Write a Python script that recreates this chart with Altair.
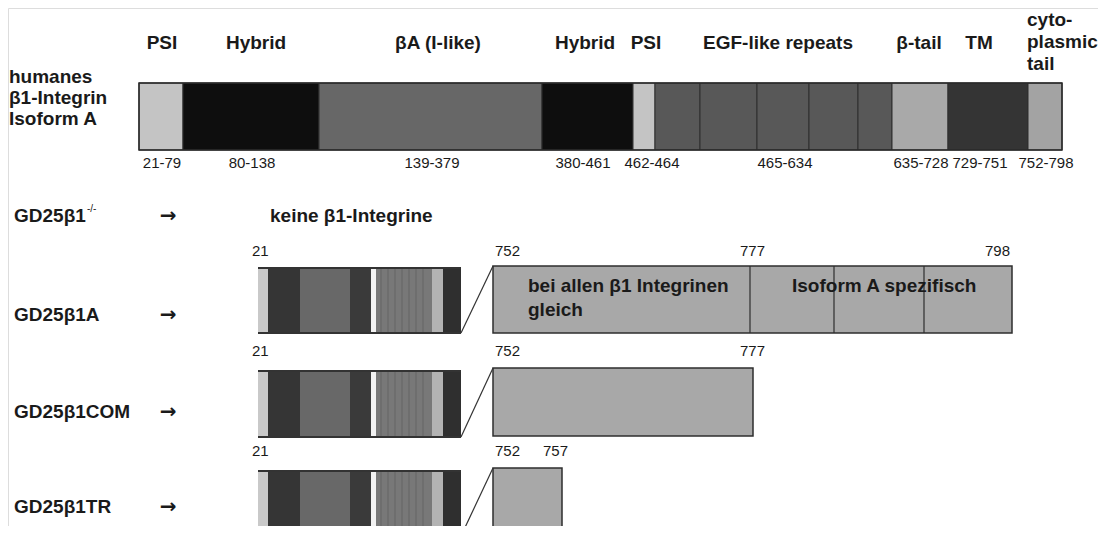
import altair as alt
import pandas as pd

FONT = "Liberation Sans"

# ---------------- top: human beta1 integrin isoform A ----------------
top_edges = [139, 183, 319, 542, 633, 655, 700, 757, 809, 858, 892, 948, 1028, 1062]
top_colors = ["#c4c4c4", "#0e0e0e", "#676767", "#0e0e0e", "#c4c4c4",
              "#585858", "#585858", "#585858", "#585858", "#585858",
              "#a9a9a9", "#343434", "#a3a3a3"]
top_bar_y = [83, 150]

header_labels = ["PSI", "Hybrid", "βA (I-like)", "Hybrid", "PSI",
                 "EGF-like repeats", "β-tail", "TM"]
header_x = [162, 256, 438, 585, 646, 778, 919, 979]
header_y = 43
cyto_lines = ["cyto-", "plasmic", "tail"]
cyto_y = [20, 42, 64]
cyto_x = 1027

name_lines = ["humanes", "β1-Integrin", "Isoform A"]
name_y = [77, 98, 119]
name_x = 9

range_labels = ["21-79", "80-138", "139-379", "380-461", "462-464",
                "465-634", "635-728", "729-751", "752-798"]
range_x = [162, 252, 432, 583, 652, 785, 921, 980, 1046]
range_y = 163

# ---------------- constructs ----------------
ko_label = "GD25β1"
ko_sup = "-/-"
ko_y = 216
ko_text = "keine β1-Integrine"
ko_text_x = 270

row_labels = ["GD25β1A", "GD25β1COM", "GD25β1TR"]
row_label_y = [315, 412, 507]
label_x = 14
arrow_x = 168

bar_top = [268, 371, 471]
bar_bottom = [333, 437, 536]
box_top = [266, 368, 468]
box_bottom = [333, 436, 536]
box_left = 493
box_right = [1012, 753, 562]

small_edges = [258, 268, 300, 350, 371, 376, 432, 443, 461]
small_colors = ["#c9c9c9", "#353535", "#686868", "#3a3a3a", "#f2f2f2",
                "#787878", "#b3b3b3", "#2f2f2f"]
stripe_x = [381, 388, 395, 402, 409, 416, 423]

num_row_y = [251, 351, 451]
num_labels = [["21", "752", "777", "798"], ["21", "752", "777"], ["21", "752", "757"]]
num_x = [[252, 495, 740, 985], [252, 495, 740], [252, 495, 543]]

boxA_dividers = [750, 834, 924]
boxA_text1 = ["bei allen β1 Integrinen", "gleich"]
boxA_text1_y = [286, 310]
boxA_text1_x = 528
boxA_text2 = "Isoform A spezifisch"
boxA_text2_x = 792
boxA_text2_y = 286

# ---------------- build tables ----------------
W, H = 1090, 518
xs = alt.Scale(domain=[8, 8 + W], nice=False, zero=False)
ys = alt.Scale(domain=[8, 8 + H], nice=False, zero=False, reverse=True)

BIG = 19
NUM = 15


def X(f="x"):
    return alt.X(f"{f}:Q", scale=xs, axis=None)


def Y(f="y"):
    return alt.Y(f"{f}:Q", scale=ys, axis=None)


top_df = pd.DataFrame({
    "x": top_edges[:-1], "x2": top_edges[1:],
    "y": [top_bar_y[0]] * len(top_colors), "y2": [top_bar_y[1]] * len(top_colors),
    "c": top_colors,
})
top_layer = alt.Chart(top_df).mark_rect(stroke="#2e2e2e", strokeWidth=1).encode(
    x=X(), x2="x2:Q", y=Y(), y2="y2:Q", color=alt.Color("c:N", scale=None))

outline_df = pd.DataFrame({"x": [top_edges[0]], "x2": [top_edges[-1]],
                           "y": [top_bar_y[0]], "y2": [top_bar_y[1]]})
outline_layer = alt.Chart(outline_df).mark_rect(fillOpacity=0, stroke="#2a2a2a", strokeWidth=1.5).encode(
    x=X(), x2="x2:Q", y=Y(), y2="y2:Q")

small_rows = []
for i in range(3):
    for j, c in enumerate(small_colors):
        small_rows.append({"x": small_edges[j], "x2": small_edges[j + 1],
                           "y": bar_top[i], "y2": bar_bottom[i], "c": c})
small_df = pd.DataFrame(small_rows)
small_layer = alt.Chart(small_df).mark_rect().encode(
    x=X(), x2="x2:Q", y=Y(), y2="y2:Q", color=alt.Color("c:N", scale=None))

stripe_rows = []
for i in range(3):
    for sx in stripe_x:
        stripe_rows.append({"x": sx, "y": bar_top[i], "y2": bar_bottom[i]})
stripe_df = pd.DataFrame(stripe_rows)
stripe_layer = alt.Chart(stripe_df).mark_rule(color="#6e6e6e", strokeWidth=2).encode(
    x=X(), y=Y(), y2="y2:Q")

edge_rows = []
for i in range(3):
    edge_rows.append({"x": small_edges[0], "x2": small_edges[-1], "y": bar_top[i]})
    edge_rows.append({"x": small_edges[0], "x2": small_edges[-1], "y": bar_bottom[i]})
edge_df = pd.DataFrame(edge_rows)
edge_layer = alt.Chart(edge_df).mark_rule(color="#333333", strokeWidth=2).encode(
    x=X(), x2="x2:Q", y=Y())

box_df = pd.DataFrame({"x": [box_left] * 3, "x2": box_right, "y": box_top, "y2": box_bottom})
box_layer = alt.Chart(box_df).mark_rect(fill="#a8a8a8", stroke="#2e2e2e", strokeWidth=1.5).encode(
    x=X(), x2="x2:Q", y=Y(), y2="y2:Q")

div_df = pd.DataFrame({"x": boxA_dividers, "y": [box_top[0]] * 3, "y2": [box_bottom[0]] * 3})
div_layer = alt.Chart(div_df).mark_rule(color="#2e2e2e", strokeWidth=1.2).encode(
    x=X(), y=Y(), y2="y2:Q")

diag_df = pd.DataFrame({"x": [small_edges[-1]] * 3, "x2": [box_left] * 3,
                        "y": bar_bottom, "y2": box_top})
diag_layer = alt.Chart(diag_df).mark_rule(color="#333333", strokeWidth=1.2).encode(
    x=X(), x2="x2:Q", y=Y(), y2="y2:Q")


def text_layer(xv, yv, labels, size, weight, align="center", font=FONT):
    df = pd.DataFrame({"x": xv, "y": yv, "t": labels})
    return alt.Chart(df).mark_text(font=font, fontSize=size, fontWeight=weight,
                                   align=align, baseline="middle", color="#1a1a1a").encode(
        x=X(), y=Y(), text="t:N")


layers = [top_layer, outline_layer, small_layer, stripe_layer, edge_layer,
          box_layer, div_layer, diag_layer]

layers.append(text_layer(header_x, [header_y] * len(header_x), header_labels, BIG, "bold"))
layers.append(text_layer([cyto_x] * 3, cyto_y, cyto_lines, BIG, "bold", "left"))
layers.append(text_layer([name_x] * 3, name_y, name_lines, BIG, "bold", "left"))
layers.append(text_layer(range_x, [range_y] * len(range_x), range_labels, NUM, "normal"))

layers.append(text_layer([label_x], [ko_y], [ko_label], BIG, "bold", "left"))
layers.append(text_layer([label_x + 73], [ko_y - 7], [ko_sup], 10, "normal", "left"))
layers.append(text_layer([arrow_x], [ko_y], ["→"], 20, "bold", "center", "DejaVu Sans"))
layers.append(text_layer([ko_text_x], [ko_y], [ko_text], BIG, "bold", "left"))

layers.append(text_layer([label_x] * 3, row_label_y, row_labels, BIG, "bold", "left"))
layers.append(text_layer([arrow_x] * 3, row_label_y, ["→"] * 3, 20, "bold", "center", "DejaVu Sans"))

nx, ny, nl = [], [], []
for i in range(3):
    for lab, xv in zip(num_labels[i], num_x[i]):
        nx.append(xv)
        ny.append(num_row_y[i])
        nl.append(lab)
layers.append(text_layer(nx, ny, nl, NUM, "normal", "left"))

layers.append(text_layer([boxA_text1_x] * 2, boxA_text1_y, boxA_text1, BIG, "bold", "left"))
layers.append(text_layer([boxA_text2_x], [boxA_text2_y], [boxA_text2], BIG, "bold", "left"))

chart = alt.layer(*layers).properties(
    width=W, height=H, padding=0, autosize=alt.AutoSizeParams(type="none")
).configure_view(stroke="transparent", strokeWidth=0).configure_axis(
    domain=False, grid=False, ticks=False, labels=False
).configure(background="white")

chart.save("out.html", embed_options={"renderer": "svg", "actions": False})
